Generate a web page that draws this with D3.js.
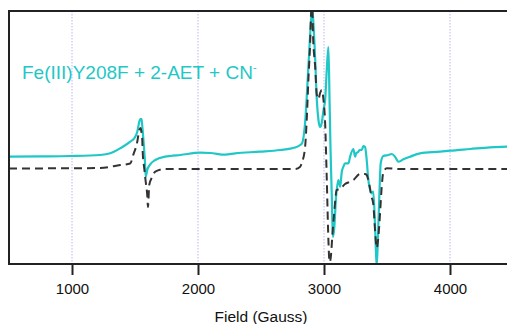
<!DOCTYPE html>
<html><head><meta charset="utf-8">
<script src="https://cdn.jsdelivr.net/npm/d3@7"></script>
<style>
html,body{margin:0;padding:0;background:#fff;overflow:hidden}
svg{display:block}
text{font-family:"Liberation Sans",Arial,sans-serif}
</style></head>
<body>
<script>
// Field (Gauss) and derivative intensity (arbitrary units)
const expField = [500,750,987,1224,1304,1383,1462,1502,1518,1534,1542,1552,1557,1568,1579,1585,1597,1621,1661,1740,1780,1859,2017,2097,2216,2295,2493,2652,2771,2811,2826,2850,2876,2898,2906,2914,2930,2943,2956,2969,2982,2996,3009,3022,3035,3044,3052,3062,3070,3080,3096,3114,3128,3141,3154,3167,3194,3207,3233,3247,3255,3273,3281,3300,3312,3326,3339,3352,3378,3391,3405,3418,3430,3439,3450,3471,3511,3538,3564,3590,3630,3683,3762,3921,4000,4159,4317,4452,4500];
const expSignal = [12.3,12.6,13,14,15.7,20.7,27.3,32.3,37.3,47.3,50,50,44,27.3,7.3,-7.7,-1,4.7,9,12.3,13,14,16.3,16,14.3,15.7,17.3,19,21.5,24,25.7,46,102,150,162,150,110,69,49,42,46,59,69,99,122,69,19,-27.7,-68,-61,-27.7,-11,-17.7,-3,2.3,5.7,5.7,12.3,20,12.3,15.7,17.3,19,19,23,22,9,-11,-24.3,-22.7,-56,-98,-61,-27.7,5.7,13,14,15,12.3,7.3,9.7,12.3,15.7,17.3,18.3,20,21.7,22.3,22.5];

const simField = [500,1224,1383,1462,1486,1518,1534,1545,1552,1557,1561,1573,1585,1597,1603,1613,1637,1661,1740,2771,2811,2824,2850,2864,2876,2890,2898,2906,2914,2930,2943,2956,2969,2982,2996,3009,3022,3035,3044,3052,3070,3080,3101,3128,3167,3207,3233,3286,3326,3339,3352,3378,3391,3405,3418,3430,3445,3458,3471,3498,3600,4500];
const simSignal = [0.5,1,4,5.5,14,27.3,39,41,36,31,17.3,1,-12.7,-26,-38,-16,-7.7,-2.7,0,0,2.3,6,22,52,89,126,157,162,130,102,74,70,76,79,69,46,-10,-71,-93,-90,-60,-45,-21,-20,-15,-12.7,-11,-5,-5,-6,-11,-28,-35,-61,-79,-70,-44,-18,-3,0.7,0,0];

const xTicks = [1000,2000,3000,4000];
const titleText = "Fe(III)Y208F + 2-AET + CN";
const xLabel = "Field (Gauss)";

const W = 507, H = 324;
const svg = d3.select("body").append("svg").attr("width", W).attr("height", H);

const x = d3.scaleLinear().domain([500, 4500]).range([9, 513]);
const y = d3.scaleLinear().domain([-95, 158]).range([264, 11]);

svg.append("defs").append("clipPath").attr("id","clip")
  .append("rect").attr("x", 9).attr("y", 11).attr("width", 504).attr("height", 254);

// grid
svg.append("g").selectAll("line").data(xTicks).join("line")
  .attr("x1", d => x(d)).attr("x2", d => x(d))
  .attr("y1", 11).attr("y2", 264)
  .attr("stroke", "#b8b8f4").attr("stroke-width", 1)
  .attr("stroke-dasharray", "1.5,1.5");

const line = d3.line().x(d => x(d[0])).y(d => y(d[1])).curve(d3.curveMonotoneX);

const expData = expField.map((f, i) => [f, expSignal[i]]);
const simData = simField.map((f, i) => [f, simSignal[i]]);

const g = svg.append("g").attr("clip-path", "url(#clip)");
g.append("path").datum(expData).attr("d", line)
  .attr("fill", "none").attr("stroke", "#1fc7c6").attr("stroke-width", 2.2)
  .attr("stroke-linejoin", "round");
g.append("path").datum(simData).attr("d", line)
  .attr("fill", "none").attr("stroke", "#333").attr("stroke-width", 2)
  .attr("stroke-dasharray", "8,5");

// frame: top and left
svg.append("line").attr("x1", 8).attr("x2", W).attr("y1", 11).attr("y2", 11)
  .attr("stroke", "#222").attr("stroke-width", 1.8);
svg.append("line").attr("x1", 9).attr("x2", 9).attr("y1", 10).attr("y2", 265)
  .attr("stroke", "#222").attr("stroke-width", 2);

// x axis
const xAxis = d3.axisBottom(x).tickValues(xTicks).tickSize(11).tickPadding(8).tickFormat(d3.format("d"));
const ax = svg.append("g").attr("transform", "translate(0,264)").call(xAxis);
ax.select(".domain").attr("stroke", "#222").attr("stroke-width", 2)
  .attr("d", `M8,0H${W}`);
ax.selectAll(".tick line").attr("stroke", "#222").attr("stroke-width", 2);
ax.selectAll(".tick text").attr("font-size", 15).attr("fill", "#111")
  .attr("font-family", "Liberation Sans, Arial, sans-serif");

svg.append("text").attr("x", 261).attr("y", 322).attr("text-anchor", "middle")
  .attr("font-size", 15.5).attr("fill", "#111").text(xLabel);

const t = svg.append("text").attr("x", 22).attr("y", 79)
  .attr("font-size", 19).attr("fill", "#1fc7c6");
t.append("tspan").text(titleText);
t.append("tspan").attr("font-size", 11).attr("dy", -8).text("-");
</script>
</body></html>
